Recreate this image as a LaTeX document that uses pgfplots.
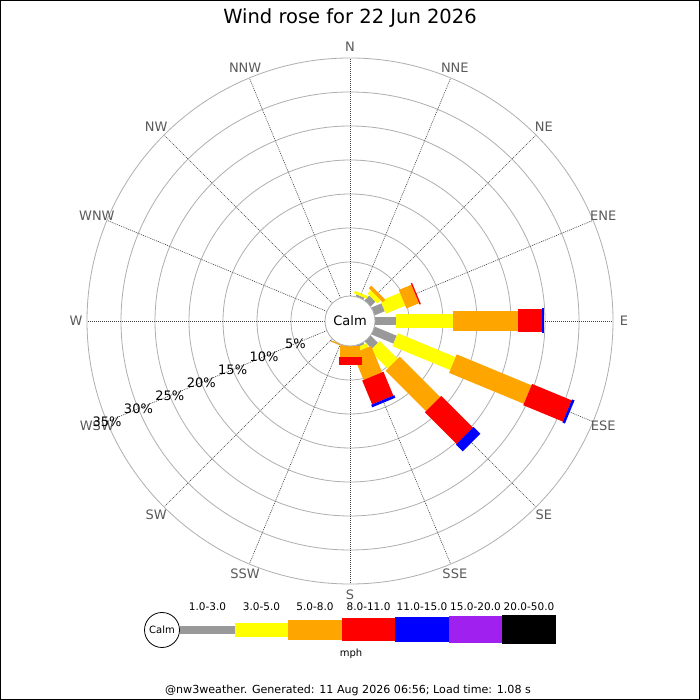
\documentclass[border=0pt]{standalone}
\usepackage{fontspec}
\setmainfont{DejaVu Sans}
\usepackage{pgfplots}
\usepackage{pgfplotstable}
\pgfplotsset{compat=1.18}

\definecolor{cgray}{RGB}{153,153,153}
\definecolor{cyellow}{RGB}{255,255,0}
\definecolor{corange}{RGB}{255,165,0}
\definecolor{cred}{RGB}{255,0,0}
\definecolor{cblue}{RGB}{0,0,255}
\definecolor{cpurple}{RGB}{160,32,240}
\definecolor{dirlab}{RGB}{90,90,90}
\definecolor{ringc}{RGB}{175,175,175}

% cumulative percentages per direction (compass degrees)
\pgfplotstableread{
dir   zero gray yellow orange red  blue
22.5  0    0.3  0.7    0.7    0.7  0.7
45    0    1.0  1.7    2.2    2.2  2.2
67.5  0    1.6  4.7    6.7    6.9  6.9
90    0    3.1  11.5   21.0   24.6 24.8
112.5 0    3.5  12.7   24.6   30.9 31.3
135   0    1.5  5.2    13.6   20.2 21.6
157.5 0    0.3  0.9    5.1    8.9  9.3
180   0    0    0      1.6    2.8  2.8
202.5 0    0    0      0.2    0.2  0.2
}\rosedata

\def\calm{3.67647}
\newcommand\windclass[4]{%
\addplot[draw=#3, line width=#4, line cap=butt, -,
  quiver={u={(\thisrow{#2}-\thisrow{#1})*sin(\thisrow{dir})},
          v={(\thisrow{#2}-\thisrow{#1})*cos(\thisrow{dir})}}]
  table[x expr={(\calm+\thisrow{#1})*sin(\thisrow{dir})},
        y expr={(\calm+\thisrow{#1})*cos(\thisrow{dir})}] {\rosedata};}

\begin{document}
\begin{tikzpicture}[x=1pt,y=1pt]
\path[use as bounding box] (0,0) rectangle (700,700);
\fill[white] (0,0) rectangle (700,700);
% rings
\foreach \k in {1,...,7} {
  \draw[ringc, line width=0.8pt] (350,379) circle [radius={25+34*\k}];
}
% spokes
\foreach \a in {0,22.5,...,337.5} {
  \draw[black!75, line width=0.6pt, dash pattern=on 1pt off 1pt]
    ({350+25*sin(\a)},{379+25*cos(\a)}) -- ({350+263*sin(\a)},{379+263*cos(\a)});
}
\begin{axis}[at={(0,0)}, anchor=south west, scale only axis,
  width=700pt, height=700pt, hide axis, clip=false,
  xmin=-51.4706, xmax=51.4706, ymin=-55.7353, ymax=47.2059]
\windclass{zero}{gray}{cgray}{8.5pt}
\windclass{gray}{yellow}{cyellow}{14pt}
\windclass{yellow}{orange}{corange}{20pt}
\windclass{orange}{red}{cred}{23pt}
\windclass{red}{blue}{cblue}{25pt}
\end{axis}
% calm circle
\draw[ringc, fill=white, line width=0.8pt] (350,379) circle [radius=25];
\node[font=\fontsize{13}{15}\selectfont] at (350,379) {Calm};
% direction labels
\foreach \a/\t in {0/N,22.5/NNE,45/NE,67.5/ENE,90/E,112.5/ESE,135/SE,157.5/SSE,180/S,202.5/SSW,225/SW,247.5/WSW,270/W,292.5/WNW,315/NW,337.5/NNW} {
  \node[dirlab, font=\fontsize{13}{15}\selectfont] at ({350+274*sin(\a)},{379+274*cos(\a)}) {\t};
}
% percent labels
\foreach \k/\t in {1/5,2/10,3/15,4/20,5/25,6/30,7/35} {
  \node[black, font=\fontsize{13}{15}\selectfont] at ({350+(25+34*\k)*sin(247.5)},{379+(25+34*\k)*cos(247.5)}) {\t\%};
}
% title
\node[font=\fontsize{19.5}{22}\selectfont] at (350,682) {Wind rose for 22 Jun 2026};
% legend
\fill[cgray]   (180,66) rectangle (235,74);
\fill[cyellow] (235,63) rectangle (288,77);
\fill[corange] (288,60) rectangle (342,80);
\fill[cred]    (342,58.5) rectangle (395,81.5);
\fill[cblue]   (395,57.5) rectangle (449,82.5);
\fill[cpurple] (449,56.5) rectangle (502,83.5);
\fill[black]   (502,55.5) rectangle (556,84.5);
\draw[black, fill=white, line width=0.8pt] (162,70) circle [radius=17.5];
\node[font=\fontsize{10}{12}\selectfont] at (162,70) {Calm};
\foreach \x/\t in {207.5/1.0-3.0,261.5/3.0-5.0,315/5.0-8.0,368.5/8.0-11.0,422/11.0-15.0,475.5/15.0-20.0,529/20.0-50.0} {
  \node[font=\fontsize{10.5}{12}\selectfont] at (\x,93) {\t};
}
\node[font=\fontsize{10}{12}\selectfont] at (351,46) {mph};
\node[font=\fontsize{11.1}{13}\selectfont] at (348,10) {@nw3weather. Generated: 11 Aug 2026 06:56; Load time: 1.08 s};
% border
\draw[black, line width=1pt] (0.5,0.5) rectangle (699.5,699.5);
\end{tikzpicture}
\end{document}
